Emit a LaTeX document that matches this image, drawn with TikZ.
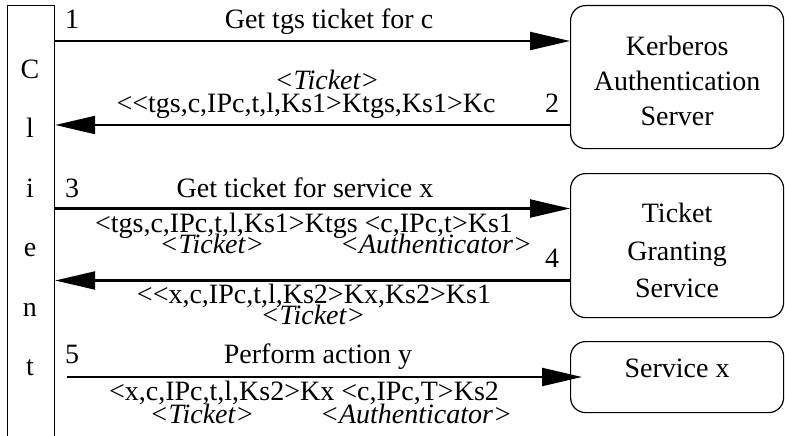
\documentclass[tikz,border=0pt]{standalone}
\usepackage{fontspec}
\setmainfont{Liberation Serif}[Ligatures=TeXOff]
\usetikzlibrary{arrows.meta}
\begin{document}
\begin{tikzpicture}[x=1pt,y=-1pt,
    font=\fontsize{28}{35}\selectfont,
    every node/.style={inner sep=0pt},
    server/.style={draw,line width=1.2pt,rounded corners=15pt,align=center,
      minimum width=213pt,anchor=north west},
    msg/.style={line width=2.2pt,-{Triangle[length=40pt,width=18pt]}},
    txt/.style={anchor=base},
    tkt/.style={anchor=base,font=\fontsize{28}{35}\selectfont\itshape}]
  \useasboundingbox (0,0) rectangle (785,436);
  \clip (0,0) rectangle (785,436);
  % client column, open at the bottom
  \node[draw,line width=1.2pt,minimum width=47pt,minimum height=470pt,
    anchor=north west] (client) at (7,5) {};
  \foreach \ch [count=\i from 0] in {C,l,i,e,n,t}
    \node[txt] (ch\i) at (30,{78+59.5*\i}) {\ch};
  % servers
  \node[server,minimum height=143pt,text height=97pt,text depth=0pt]
    (kas) at (570,5) {Kerberos\\Authentication\\Server};
  \node[server,minimum height=144pt,font=\fontsize{28}{37.5}\selectfont,
    text height=104pt,text depth=0pt]
    (tgs) at (570,173) {Ticket\\Granting\\Service};
  \node[server,minimum height=71pt,text height=19pt,text depth=18pt]
    (svc) at (570,341) {Service x};
  \coordinate (m1) at (0,41);
  \coordinate (m2) at (0,125);
  \coordinate (m3) at (0,208.5);
  \coordinate (m4) at (0,280.5);
  \coordinate (m5) at (67,377);
  \begin{scope}[msg]
    \draw (client.east |- m1) -- (kas.west |- m1);
    \draw (kas.west |- m2) -- (client.east |- m2);
    \draw (client.east |- m3) -- (tgs.west |- m3);
    \draw (tgs.west |- m4) -- (client.east |- m4);
    \draw[shorten >=-12pt] (m5) -- (svc.west |- m5);
  \end{scope}
  % labels
  \node[txt] (num1) at (72,29) {1};
  \node[txt] (lab1) at (329,29) {Get tgs ticket for c};
  \node[tkt] (tk2) at (327,90) {<Ticket>};
  \node[txt] (lab2) at (306,112) {<<tgs,c,IPc,t,l,Ks1>Ktgs,Ks1>Kc};
  \node[txt] (num2) at (552,113) {2};
  \node[txt] (num3) at (72,197) {3};
  \node[txt] (lab3) at (305,197) {Get ticket for service x};
  \node[txt] (body3) at (304,232) {<tgs,c,IPc,t,l,Ks1>Ktgs <c,IPc,t>Ks1};
  \node[tkt] (tk3) at (212,253) {<Ticket>};
  \node[tkt] (au3) at (436,253) {<Authenticator>};
  \node[txt] (num4) at (552,267) {4};
  \node[txt] (lab4) at (314,303) {<<x,c,IPc,t,l,Ks2>Kx,Ks2>Ks1};
  \node[tkt] (tk4) at (313,324) {<Ticket>};
  \node[txt] (num5) at (72,363) {5};
  \node[txt] (lab5) at (318,363) {Perform action y};
  \node[txt] (body5) at (304,400) {<x,c,IPc,t,l,Ks2>Kx <c,IPc,T>Ks2};
  \node[tkt] (tk5) at (202,423) {<Ticket>};
  \node[tkt] (au5) at (416,423) {<Authenticator>};
\end{tikzpicture}
\end{document}
